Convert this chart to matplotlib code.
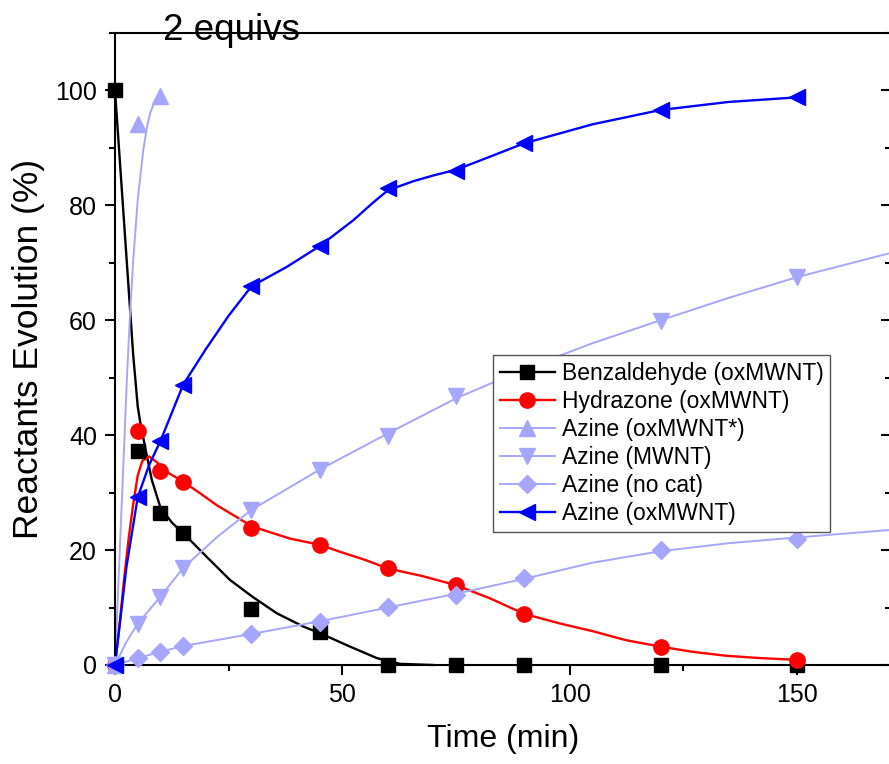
import numpy as np
from matplotlib import pyplot as plt
from matplotlib.lines import Line2D
from matplotlib.ticker import MultipleLocator

plt.rcParams['font.family'] = ['Liberation Sans', 'DejaVu Sans']

# measured points
t_pts = [0, 5, 10, 15, 30, 45, 60, 75, 90, 120, 150]
benz = [100, 37.3, 26.5, 23, 9.8, 5.8, 0, 0, 0, 0, 0]
hydr = [0, 40.7, 33.8, 31.8, 23.9, 20.8, 16.9, 13.9, 8.9, 3.1, 0.9]
t_star = [0, 5, 10]
azine_star = [0, 94.2, 99.1]
azine_mwnt = [0, 7.2, 11.9, 16.9, 27, 34, 39.8, 46.8, 51.5, 59.8, 67.5]
azine_nocat = [0, 1.2, 2.3, 3.3, 5.4, 7.5, 10.1, 12.1, 15.1, 20.1, 21.9]
azine_ox = [0, 29.2, 39, 48.8, 65.9, 72.9, 83, 85.9, 90.8, 96.6, 98.8]

# fitted curves
benz_fit_t = [0, 1, 2, 3, 4, 5, 5.5, 6.6, 8.1, 10, 12.5, 15.2, 20.2, 25.3, 30.2,
              35.6, 41.4, 45.2, 51.7, 57.6, 62.7, 70]
benz_fit = [100, 88.5, 77, 65.5, 54, 45, 42.5, 38, 32.2, 27.4, 24.8, 22.8, 18.8, 14.8, 11.9,
            9, 6.7, 5.5, 3.2, 1.2, 0.2, 0]
hydr_fit_t = [0, 1, 2, 3, 4, 5, 6, 7.5, 9.2, 11.4, 15, 18.7, 22.4, 26, 30.2, 38.5,
              45.2, 49.5, 55, 60, 67.5, 75, 82.5, 90, 98, 105, 112.5, 120, 127, 134.5,
              142, 150]
hydr_fit = [0, 7, 15, 22, 28, 33, 35.5, 36.3, 35.3, 33.6, 31.9, 29.9, 27.8, 26.1, 24.1, 22,
            20.9, 19.7, 18.3, 16.8, 15.5, 13.9, 11.6, 8.9, 7.2, 5.9, 4.3, 3.2, 2.3, 1.6,
            1.2, 0.9]
star_fit_t = [0, 1, 2, 2.6, 3.3, 4, 5, 6.2, 7, 7.7, 8.5, 9.2, 10]
star_fit = [0, 19, 38, 49.6, 61, 70.4, 81, 89.5, 93.5, 96, 97.6, 98.5, 99.1]
mwnt_fit_t = [0, 2.5, 5, 10, 15, 22.5, 30, 45, 60, 75, 90, 105, 120, 135, 150, 172]
mwnt_fit = [0, 4, 7.2, 11.9, 16.9, 22.3, 27, 34, 40.3, 46.4, 51.5, 56, 60, 63.9, 67.5, 72]
nocat_fit_t = [0, 5, 10, 15, 30, 45, 60, 75, 90, 105, 120, 135, 150, 172]
nocat_fit = [0, 1.2, 2.3, 3.3, 5.4, 7.6, 10, 12.4, 15, 17.8, 19.8, 21.2, 22.2, 23.6]
ox_fit_t = [0, 2.5, 5, 7.5, 10, 15, 20, 25, 30, 37.8, 45, 52.4, 56.8, 60, 65.6, 70, 75,
            80.3, 90, 105, 120, 135, 150]
ox_fit = [0, 17, 29.2, 34.8, 39, 48.8, 55, 60.8, 65.9, 69.3, 72.9, 77.4, 80.5, 82.6, 84.2,
          85.2, 86.2, 87.8, 90.8, 94.1, 96.6, 98, 98.8]

light = '#a6a6ff'
series = [
    ("Benzaldehyde (oxMWNT)", t_pts, benz, benz_fit_t, benz_fit, 'black', 's', 10),
    ("Hydrazone (oxMWNT)", t_pts, hydr, hydr_fit_t, hydr_fit, '#ff0000', 'o', 11),
    ("Azine (oxMWNT*)", t_star, azine_star, star_fit_t, star_fit, light, '^', 11),
    ("Azine (MWNT)", t_pts, azine_mwnt, mwnt_fit_t, mwnt_fit, light, 'v', 11),
    ("Azine (no cat)", t_pts, azine_nocat, nocat_fit_t, nocat_fit, light, 'D', 9),
    ("Azine (oxMWNT)", t_pts, azine_ox, ox_fit_t, ox_fit, '#0000ff', '<', 11),
]

fig = plt.figure(figsize=(8.89, 7.64), dpi=100)
ax = fig.add_axes([115 / 889, 1 - 665 / 764, (891 - 115) / 889, (665 - 33) / 764])

handles = []
for label, x, y, fx, fy, col, mk, ms in series:
    lw = 1.4 if col == light else 1.7
    ax.plot(fx, fy, color=col, lw=lw, clip_on=False, zorder=2, solid_joinstyle='round')
    ax.plot(x, y, ls='none', marker=mk, ms=ms, color=col, mec=col, clip_on=False, zorder=3)
    handles.append(Line2D([], [], color=col, lw=lw, marker=mk, ms=ms, mec=col))

ax.set_xlim(0, 170.7)
ax.set_ylim(0, 110)
ax.xaxis.set_major_locator(MultipleLocator(50))
ax.xaxis.set_minor_locator(MultipleLocator(25))
ax.yaxis.set_major_locator(MultipleLocator(20))
ax.yaxis.set_minor_locator(MultipleLocator(10))
ax.tick_params(axis='both', which='both', direction='out', width=1.5, labelsize=18,
               right=True, top=False)
ax.tick_params(axis='both', which='major', length=7, pad=6)
ax.tick_params(axis='both', which='minor', length=4)
for sp in ax.spines.values():
    sp.set_linewidth(1.5)
ax.spines['right'].set_visible(False)
# ticks on the right point into the plot
for tk in ax.yaxis.get_major_ticks() + ax.yaxis.get_minor_ticks():
    tk.tick2line.set_marker(0)

ax.set_xlabel('Time (min)', fontsize=23, labelpad=12)
ax.set_ylabel('Reactants Evolution (%)', fontsize=25.5, labelpad=7)

leg = ax.legend(handles, [s[0] for s in series], loc='upper left',
                bbox_to_anchor=((493 - 115) / (891 - 115), (665 - 355) / (665 - 33)),
                borderaxespad=0, fontsize=16.5, numpoints=1, handlelength=2.4,
                handletextpad=0.3, labelspacing=0.22, borderpad=0.3,
                fancybox=False, framealpha=1, edgecolor='#555555')
leg.get_frame().set_linewidth(1.0)

fig.text(163 / 889, 1 - 39.5 / 764, '2 equivs', fontsize=26.5, va='baseline', ha='left')

fig.savefig('out.png', dpi=100)
